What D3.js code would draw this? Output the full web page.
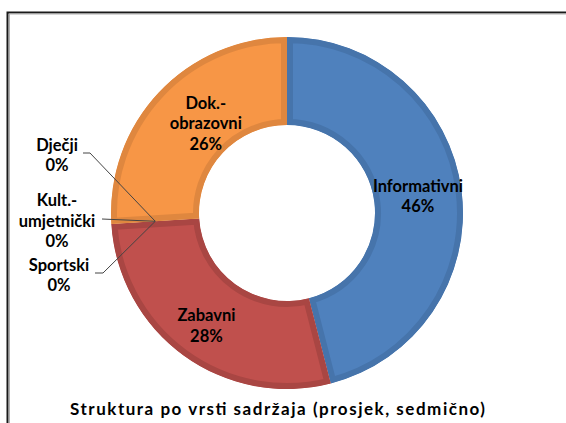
<!DOCTYPE html>
<html>
<head>
<meta charset="utf-8">
<script src="https://cdn.jsdelivr.net/npm/d3@7"></script>
<style>
    body { margin: 0; background: #fff; }
    svg { display: block; }
    text { font-family: Lato, "Open Sans", sans-serif; font-weight: 700; fill: #000; }
</style>
</head>
<body>
<div class="js-canvas"></div>
<script>
'use strict';

// data
const categories = ['Informativni', 'Zabavni', 'Sportski', 'Kult.-umjetnički', 'Dječji', 'Dok.-obrazovni'];
const values = [46, 28, 0, 0, 0, 26];
const labelLines = [['Informativni'], ['Zabavni'], ['Sportski'], ['Kult.-', 'umjetnički'], ['Dječji'], ['Dok.-', 'obrazovni']];
const title = 'Struktura po vrsti sadržaja (prosjek, sedmično)';

const config = {
    width: 566,
    height: 423,
    cx: 287,
    cy: 213,
    outer: 176,
    inner: 88,
    band: 6,
    lineHeight: 20.5,
    fontSize: 16.5
};

// slice colours: fill + darker edge band
const fills = ['#4f81bd', '#c0504d', '#9bbb59', '#8064a2', '#4bacc6', '#f79646'];
const edges = ['#4674ab', '#a94643', '#8aa64f', '#725a91', '#439ab1', '#df873f'];

const svg = d3.select('.js-canvas')
    .append('svg')
    .attr('width', config.width)
    .attr('height', config.height);

// frame (only top and left edges visible in the crop)
svg.append('path')
    .attr('d', `M7.5,${config.height} V12.5 H${config.width}`)
    .attr('fill', 'none')
    .attr('stroke', '#1a1a1a')
    .attr('stroke-width', 2);
svg.append('path')
    .attr('d', `M9.5,${config.height} V14 H${config.width}`)
    .attr('fill', 'none')
    .attr('stroke', '#b0b0b0')
    .attr('stroke-width', 1);

const data = categories.map((c, i) => ({ name: c, value: values[i], lines: labelLines[i], i }));

const pie = d3.pie()
    .sort(null)
    .value(d => d.value);

const arc = d3.arc()
    .innerRadius(config.inner)
    .outerRadius(config.outer);

const arcs = pie(data);

const graph = svg.append('g')
    .attr('transform', `translate(${config.cx}, ${config.cy})`);

const defs = svg.append('defs');

const slices = arcs.filter(d => d.value > 0);

defs.selectAll('clipPath')
    .data(slices)
    .enter()
    .append('clipPath')
    .attr('id', d => 'clip' + d.data.i)
    .append('path')
    .attr('d', arc);

graph.selectAll('path.slice')
    .data(slices)
    .enter()
    .append('path')
    .attr('class', 'slice')
    .attr('d', arc)
    .attr('fill', d => fills[d.data.i])
    .attr('stroke', d => edges[d.data.i])
    .attr('stroke-width', config.band * 2)
    .attr('clip-path', d => `url(#clip${d.data.i})`);

// labels inside the ring
const nudge = { 'Informativni': [0, 0], 'Zabavni': [-3, 6], 'Dok.-obrazovni': [15, 1] };

const drawLabel = (g, lines, pct, x, y) => {
    const all = lines.concat([pct + '%']);
    const top = y - (all.length - 1) * config.lineHeight / 2;
    const t = g.append('text')
        .attr('text-anchor', 'middle')
        .attr('font-size', config.fontSize);
    all.forEach((s, k) => {
        t.append('tspan')
            .attr('x', x)
            .attr('y', top + k * config.lineHeight)
            .attr('dy', '0.35em')
            .text(s);
    });
};

slices.forEach(d => {
    const [x, y] = arc.centroid(d);
    const n = nudge[d.data.name] || [0, 0];
    drawLabel(graph, d.data.lines, d.data.value, x + n[0], y + n[1]);
});

// zero slices: labels stacked to the left with leader lines to the centroid
const outside = arcs.filter(d => d.value === 0);
// label block centre relative to donut centre, and where the leader starts
const outsideLayout = {
    'Dječji': { dx: -230, dy: -58, lx: -204, ly: -60, elbow: -197 },
    'Kult.-umjetnički': { dx: -230, dy: 8, lx: -185, ly: 6, elbow: null },
    'Sportski': { dx: -228, dy: 62, lx: -192, ly: 60, elbow: -184 }
};

outside.forEach(d => {
    const L = outsideLayout[d.data.name];
    const [px, py] = arc.centroid(d);
    const pts = [[L.lx, L.ly]];
    if (L.elbow !== null) pts.push([L.elbow, L.ly]);
    pts.push([px, py]);
    graph.append('path')
        .attr('d', d3.line()(pts))
        .attr('fill', 'none')
        .attr('stroke', '#444')
        .attr('stroke-width', 1);
    drawLabel(graph, d.data.lines, d.data.value, L.dx, L.dy);
});

// title
svg.append('text')
    .attr('x', 277.5)
    .attr('y', 415)
    .attr('text-anchor', 'middle')
    .attr('font-size', 17)
    .attr('textLength', 415)
    .attr('lengthAdjust', 'spacing')
    .text(title);
</script>
</body>
</html>
